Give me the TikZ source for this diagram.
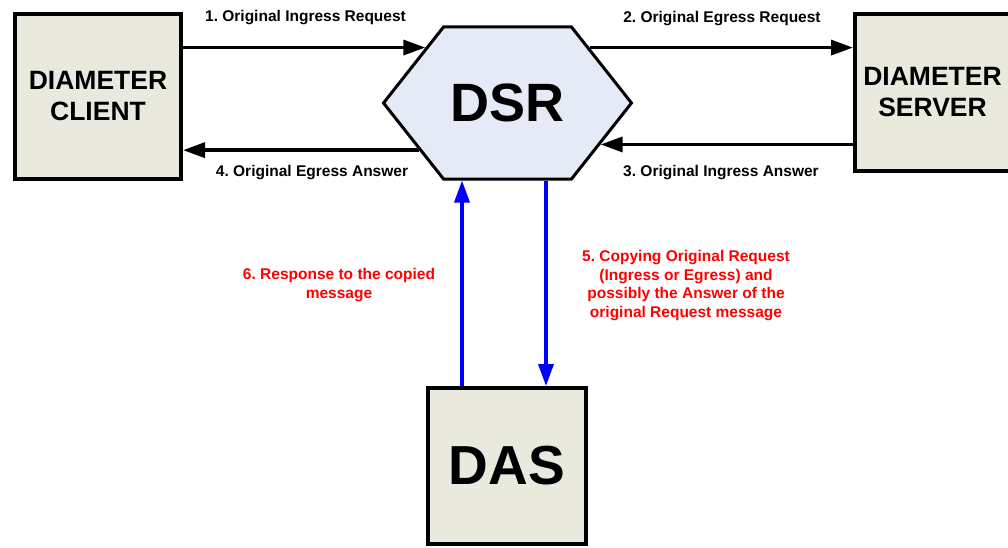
\documentclass[tikz,border=0pt]{standalone}
\usepackage{fontspec}
\setmainfont{Liberation Sans}
\frenchspacing
\usetikzlibrary{arrows.meta,shapes.symbols}
\definecolor{boxfill}{RGB}{233,233,222}
\definecolor{hexfill}{RGB}{229,235,246}
\tikzset{
  box/.style={draw,line width=4pt,fill=boxfill,inner sep=0pt,align=center,
    font=\fontsize{26.5}{31}\selectfont\bfseries},
  msg/.style={inner sep=0pt,align=center,font=\fontsize{15.5}{18.5}\selectfont\bfseries},
  arr/.style={line width=3.5pt,-{Triangle[length=22pt,width=15pt]}},
  blu/.style={blue,line width=3.5pt,-{Triangle[length=22pt,width=15pt]}},
}
\begin{document}
\begin{tikzpicture}[x=1pt,y=-1pt]
  \useasboundingbox (0,0) rectangle (1008,548);
  % クライアント
  \node[box,minimum width=166pt,minimum height=165pt] (cl) at (98,96.5) {DIAMETER\\CLIENT};
  % サーバ
  \node[box,minimum width=155pt,minimum height=157pt] (sv) at (932.5,92.5) {DIAMETER\\SERVER};
  % DSR の六角形
  \node[draw,line width=3pt,fill=hexfill,shape=signal,signal to=west and east,
    signal pointer angle=103.4,minimum width=248pt,minimum height=152pt,inner sep=0pt,
    font=\fontsize{54}{54}\selectfont\bfseries] (dsr) at (507.5,103) {DSR};
  % DAS
  \node[box,minimum width=158pt,minimum height=156pt,font=\fontsize{55}{55}\selectfont\bfseries]
    (das) at (507,466) {DAS};
  % 元のメッセージ
  \draw[arr] (cl.east |- dsr.146) -- (dsr.146);
  \draw[arr] (dsr.34) -- (sv.west |- dsr.34);
  \draw[arr] (sv.west |- dsr.336) -- (dsr.336);
  \draw[arr] (dsr.208) -- (cl.east |- dsr.208);
  % コピーと応答
  \draw[blu] ([xshift=-45pt]das.north) -- ([xshift=-45pt]das.north |- dsr.south);
  \draw[blu] ([xshift=39pt]das.north |- dsr.south) -- ([xshift=39pt]das.north);
  % ラベル
  \node[msg] (l1) at (305.5,18) {1. Original Ingress Request};
  \node[msg] (l2) at (722,19) {2. Original Egress Request};
  \node[msg] (l3) at (721,173) {3. Original Ingress Answer};
  \node[msg] (l4) at (312,173) {4. Original Egress Answer};
  \node[msg,red] (l5) at (686,285.5) {5. Copying Original Request\\(Ingress or Egress) and\\possibly the Answer of the\\original Request message};
  \node[msg,red] (l6) at (339,285) {6. Response to the copied\\message};
\end{tikzpicture}
\end{document}
